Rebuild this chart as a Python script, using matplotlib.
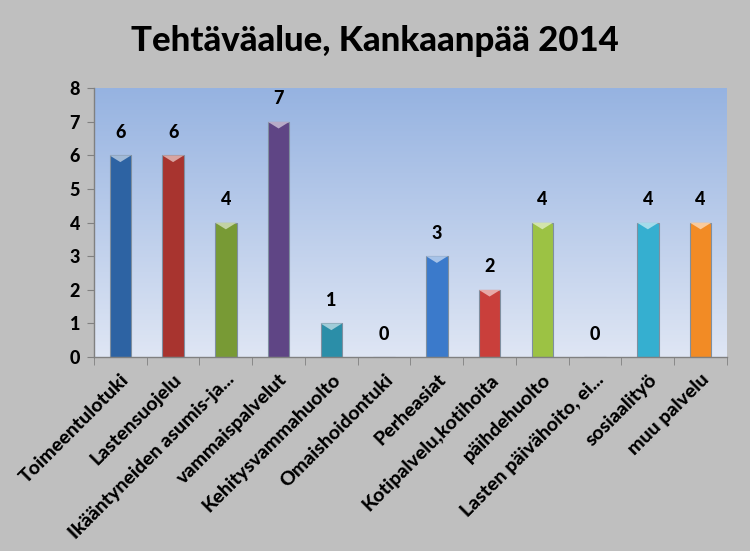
import numpy as np
import matplotlib
matplotlib.use("Agg")
import matplotlib.pyplot as plt
from matplotlib.patches import Polygon
from matplotlib.colors import LinearSegmentedColormap, to_rgb

categories = ["Toimeentulotuki", "Lastensuojelu", "Ikääntyneiden asumis-ja...",
              "vammaispalvelut", "Kehitysvammahuolto", "Omaishoidontuki",
              "Perheasiat", "Kotipalvelu,kotihoita", "päihdehuolto",
              "Lasten päivähoito, ei...", "sosiaalityö", "muu palvelu"]
values = [6, 6, 4, 7, 1, 0, 3, 2, 4, 0, 4, 4]
colors = ["#2d63a3", "#a8342f", "#789a35", "#5f4585", "#2b8ea8", "#2b8ea8",
          "#3b7acb", "#c93f3b", "#9cc244", "#35afd0", "#35afd0", "#f28b25"]
title = "Tehtäväalue, Kankaanpää 2014"

plt.rcParams['font.family'] = ['Lato', 'DejaVu Sans']

fig = plt.figure(figsize=(7.5, 5.51), dpi=100)
fig.patch.set_facecolor("#bfbfbf")
ax = fig.add_axes([0.1253, 0.352, 0.844, 0.488])

n = len(categories)
x = np.arange(n)
ax.set_xlim(-0.5, n - 0.5)
ax.set_ylim(0, 8)

# gradient background
grad = np.linspace(0, 1, 256).reshape(-1, 1)
cmap = LinearSegmentedColormap.from_list("bg", ["#dfe6f4", "#96b3e1"])
ax.imshow(grad, extent=(-0.5, n - 0.5, 0, 8), origin="lower", aspect="auto",
          cmap=cmap, zorder=0)

w = 0.41
bars = ax.bar(x, values, width=w, color=colors, edgecolor="#7f8fa0",
              linewidth=0.8, zorder=2)
for xi, v, c in zip(x, values, colors):
    if v > 0:
        rgb = np.array(to_rgb(c))
        light = 1 - (1 - rgb) * 0.45
        dy = 0.2
        tri = Polygon([[xi - w / 2, v], [xi + w / 2, v], [xi, v - dy]],
                      closed=True, facecolor=light, edgecolor="none", zorder=3)
        ax.add_patch(tri)
    ax.text(xi, v + 0.68, str(v), ha="center", va="center", fontsize=13,
            fontweight="black", color="black", zorder=4)

ax.set_yticks(range(0, 9))
ax.set_yticklabels([str(i) for i in range(0, 9)], fontsize=13, fontweight="black")
ax.set_xticks(x)
ax.set_xticklabels(categories, rotation=45, ha="right", va="top",
                   rotation_mode="anchor", fontsize=14, fontweight="black")
ax.tick_params(axis="x", which="major", length=0, pad=10)
ax.set_xticks(np.arange(-0.5, n, 1), minor=True)
ax.tick_params(axis="x", which="minor", length=6, color="#808080", direction="out")
ax.tick_params(axis="y", length=5, color="#808080", direction="out", pad=5)

for s in ["top", "right"]:
    ax.spines[s].set_visible(False)
for s in ["left", "bottom"]:
    ax.spines[s].set_color("#808080")
    ax.spines[s].set_linewidth(1)

fig.text(0.5, 0.925, title, ha="center", va="center", fontsize=25,
         fontweight="black", color="black")

fig.savefig("out.png", dpi=100, facecolor=fig.get_facecolor())
